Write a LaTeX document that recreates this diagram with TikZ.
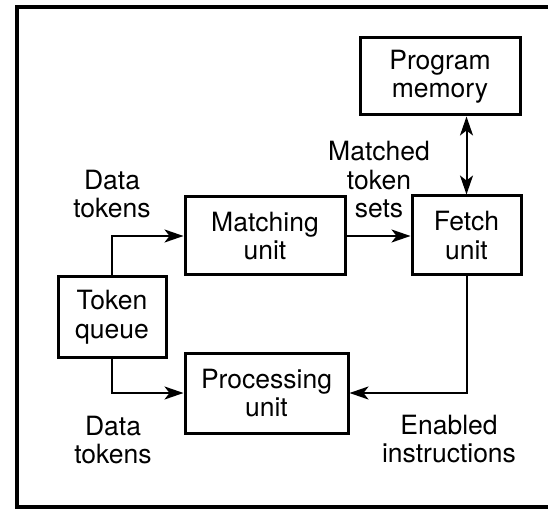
\documentclass[tikz,border=0pt]{standalone}
\usepackage{fontspec}
\setmainfont{TeX Gyre Heros}
\usetikzlibrary{arrows.meta, positioning}
\tikzset{
  unit/.style={
    rectangle, draw, color=black, line width=3pt, inner sep=0pt,
    align=center, font=\fontsize{26.5}{28.5}\selectfont
  },
  note/.style={
    align=center, inner sep=0pt, font=\fontsize{26.5}{28.5}\selectfont
  },
  connection/.style={
    draw, ->, >={Stealth[length=19pt,width=13pt,inset=5pt]},
    color=black, line width=2pt
  }
}

\begin{document}
\begin{tikzpicture}[x=1pt, y=-1pt]
        \useasboundingbox[fill=white] (0,0) rectangle (548,510);
        \draw[line width=4pt] (548,7) -- (17,7) -- (17,507) -- (548,507);

        \node[unit, minimum width=160pt, minimum height=77pt] (progmem) at (440,76.5) {Program\\memory};
        \node[unit, minimum width=160pt, minimum height=78pt] (match) at (265,236) {Matching\\unit};
        \node[unit, minimum width=109pt, minimum height=79pt] (fetch) at (466.5,235.5) {Fetch\\unit};
        \node[unit, minimum width=108pt, minimum height=80pt] (tokq) at (112,317) {Token\\queue};
        \node[unit, minimum width=163pt, minimum height=80pt] (proc) at (266.5,393) {Processing\\unit};

        \node[note] (datain) at (112,194) {Data\\tokens};
        \node[note] (matched) at (379,180) {Matched\\token\\sets};
        \node[note] (dataout) at (113,440) {Data\\tokens};
        \node[note] (enabled) at (449,439) {Enabled\\instructions};

        \draw[connection] (tokq.north) |- (match.west);
        \draw[connection] (tokq.south) |- (proc.west);
        \draw[connection] (match.east) -- (match.east -| fetch.west);
        \draw[connection] (fetch.south) |- (proc.east);
        \draw[connection, <->] (fetch.north) -- (fetch.north |- progmem.south);
      \end{tikzpicture}
\end{document}
